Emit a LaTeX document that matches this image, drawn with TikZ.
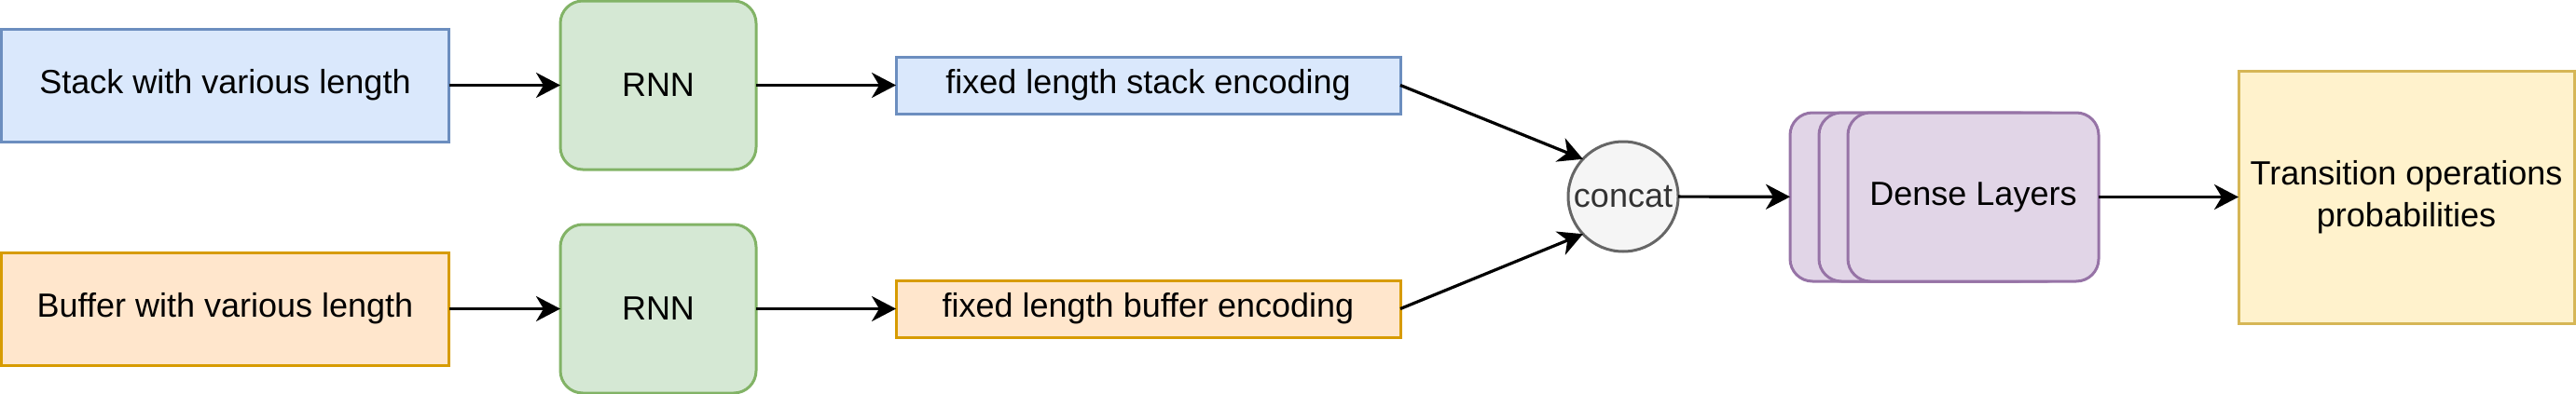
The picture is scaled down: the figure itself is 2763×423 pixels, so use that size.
\documentclass[tikz,border=0pt]{standalone}
\usepackage{fontspec}
\setmainfont{Liberation Sans}
\usetikzlibrary{arrows.meta}
\definecolor{bluefill}{HTML}{DAE8FC}
\definecolor{bluedraw}{HTML}{6C8EBF}
\definecolor{orfill}{HTML}{FFE6CC}
\definecolor{ordraw}{HTML}{D79B00}
\definecolor{grfill}{HTML}{D5E8D4}
\definecolor{grdraw}{HTML}{82B366}
\definecolor{gyfill}{HTML}{F5F5F5}
\definecolor{gydraw}{HTML}{666666}
\definecolor{gytext}{HTML}{333333}
\definecolor{pufill}{HTML}{E1D5E7}
\definecolor{pudraw}{HTML}{9673A6}
\definecolor{yefill}{HTML}{FFF2CC}
\definecolor{yedraw}{HTML}{D6B656}
\begin{document}
\begin{tikzpicture}[x=0.5pt,y=-0.5pt,
  box/.style={draw, line width=1.5pt, inner sep=0pt, outer sep=0pt,
    font=\fontsize{18}{22.5}\selectfont, align=center},
  bluebox/.style={box, fill=bluefill, draw=bluedraw},
  orbox/.style={box, fill=orfill, draw=ordraw},
  rnnbox/.style={box, fill=grfill, draw=grdraw, rounded corners=12pt,
    minimum width=105pt, minimum height=90.5pt},
  densebox/.style={box, fill=pufill, draw=pudraw, rounded corners=12pt,
    minimum width=134.5pt, minimum height=90.5pt},
  conn/.style={-{Stealth[length=13pt,width=13.5pt,inset=4pt]}, line width=1.6pt}]
\useasboundingbox (0,0) rectangle (2763,423);
\node[bluebox, minimum width=240pt, minimum height=60.5pt] (stack) at (241.5,91.5) {Stack with various length};
\node[orbox, minimum width=240pt, minimum height=60.5pt] (buffer) at (241.5,331.5) {Buffer with various length};
\node[rnnbox] (rnn1) at (706,91.5) {RNN};
\node[rnnbox] (rnn2) at (706,331.5) {RNN};
\node[bluebox, minimum width=270.5pt, minimum height=30.5pt] (senc) at (1231.5,91.5) {fixed length stack encoding};
\node[orbox, minimum width=270.5pt, minimum height=30.5pt] (benc) at (1231.5,331.5) {fixed length buffer encoding};
\node[box, circle, fill=gyfill, draw=gydraw, text=gytext, minimum size=59pt] (concat) at (1741,211) {concat};
\node[densebox] (dense3) at (2054.5,211.5) {};
\node[densebox] (dense2) at (2085.5,211.5) {};
\node[densebox] (dense1) at (2116.5,211.5) {Dense Layers};
\node[box, fill=yefill, draw=yedraw, minimum width=180pt, minimum height=135.5pt] (trans) at (2581,211.5) {Transition operations\\probabilities};
\draw[conn] (stack) -- (rnn1);
\draw[conn] (buffer) -- (rnn2);
\draw[conn] (rnn1) -- (senc);
\draw[conn] (rnn2) -- (benc);
\draw[conn] (senc.east) -- (concat.137);
\draw[conn] (benc.east) -- (concat.223);
\draw[conn] (concat) -- (dense3);
\draw[conn] (dense1) -- (trans);
\end{tikzpicture}
\end{document}
